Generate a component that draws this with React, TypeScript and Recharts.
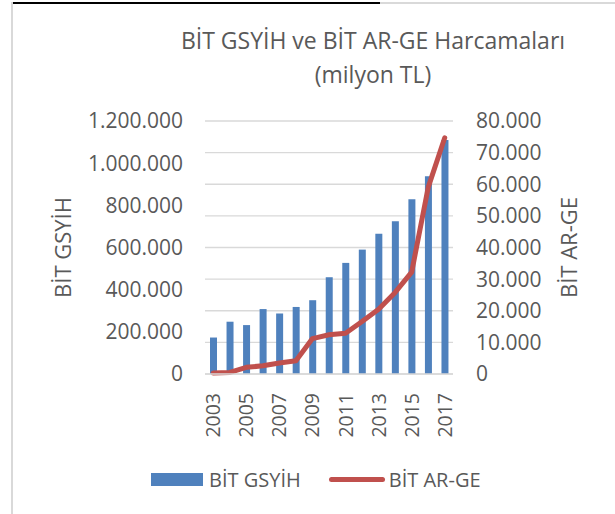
import React from 'react'
import {
  Bar,
  CartesianGrid,
  ComposedChart,
  Label,
  Line,
  XAxis,
  YAxis,
} from 'recharts'

const years = [
  '2003', '2004', '2005', '2006', '2007', '2008', '2009', '2010',
  '2011', '2012', '2013', '2014', '2015', '2016', '2017',
]
const gsyih = [
  173000, 248000, 232000, 308000, 287000, 318000, 350000, 459000,
  527000, 590000, 665000, 725000, 829000, 938000, 1110000,
]
const arge = [
  300, 500, 2100, 2600, 3500, 4200, 11200, 12400,
  12900, 16600, 20500, 25800, 32200, 59000, 74700,
]
const leftTicks = [0, 200000, 400000, 600000, 800000, 1000000, 1200000]
const rightTicks = [0, 10000, 20000, 30000, 40000, 50000, 60000, 70000, 80000]

const data = years.map((year, i) => ({
  year,
  gsyih: gsyih[i],
  arge: arge[i],
}))

const BLUE = '#4f81bd'
const RED = '#c0504d'
const TEXT = '#595959'
const FONT = '"Open Sans", sans-serif'

// 1200000 -> "1.200.000"
const fmt = (v: number) => String(v).replace(/\B(?=(\d{3})+(?!\d))/g, '.')

const YearTick = (props: any) => {
  const { x, y, payload } = props
  return (
    <g transform={`translate(${x},${y})`}>
      <text
        x={0}
        y={0}
        dy="0.36em"
        textAnchor="end"
        transform="rotate(-90)"
        fill={TEXT}
        fontSize={19.5}
        fontFamily={FONT}
      >
        {payload.value}
      </text>
    </g>
  )
}

const axisTitle = (text: string, dx: number) => (props: any) => {
  const { viewBox } = props
  const cx = viewBox.x + dx
  const cy = viewBox.y + viewBox.height / 2
  return (
    <text
      x={cx}
      y={cy}
      transform={`rotate(-90 ${cx} ${cy})`}
      textAnchor="middle"
      dominantBaseline="central"
      fill={TEXT}
      fontSize={22}
      fontFamily={FONT}
    >
      {text}
    </text>
  )
}

export default function App() {
  return (
    <div
      style={{
        position: 'absolute',
        left: 0,
        top: 0,
        width: 615,
        height: 514,
        background: '#fff',
        fontFamily: FONT,
        overflow: 'hidden',
      }}
    >
      {/* page frame */}
      <div style={{ position: 'absolute', left: 12, top: 2, width: 368, height: 2, background: '#000' }} />
      <div style={{ position: 'absolute', left: 380, top: 2, width: 235, height: 2, background: '#d9d9d9' }} />
      <div style={{ position: 'absolute', left: 11, top: 2, width: 2, height: 512, background: '#d9d9d9' }} />

      <div
        style={{
          position: 'absolute',
          left: 173,
          top: 23,
          width: 400,
          textAlign: 'center',
          color: TEXT,
          fontSize: 23,
          lineHeight: '34px',
        }}
      >
        BİT GSYİH ve BİT AR-GE Harcamaları
        <br />
        (milyon TL)
      </div>

      <ComposedChart
        width={615}
        height={514}
        data={data}
        margin={{ top: 121, right: 30, bottom: 30, left: 30 }}
      >
        <CartesianGrid vertical={false} yAxisId="right" stroke="#d9d9d9" strokeWidth={1.3} />
        <XAxis
          dataKey="year"
          height={110}
          interval={1}
          tickSize={0}
          tickMargin={19}
          tick={<YearTick />}
          axisLine={{ stroke: '#d9d9d9', strokeWidth: 1.5 }}
          tickLine={false}
        />
        <YAxis
          yAxisId="left"
          width={175}
          domain={[0, 1200000]}
          ticks={leftTicks}
          tickFormatter={fmt}
          tickSize={0}
          tickMargin={22}
          axisLine={false}
          tickLine={false}
          tick={{ fill: TEXT, fontSize: 21, fontFamily: FONT }}
        >
          <Label content={axisTitle('BİT GSYİH', 32)} />
        </YAxis>
        <YAxis
          yAxisId="right"
          orientation="right"
          width={132}
          domain={[0, 80000]}
          ticks={rightTicks}
          tickFormatter={fmt}
          tickSize={0}
          tickMargin={23}
          axisLine={false}
          tickLine={false}
          tick={{ fill: TEXT, fontSize: 21, fontFamily: FONT, textAnchor: 'start' }}
        >
          <Label content={axisTitle('BİT AR-GE', 115)} />
        </YAxis>
        <Bar
          yAxisId="left"
          dataKey="gsyih"
          name="BİT GSYİH"
          fill={BLUE}
          barSize={7}
          isAnimationActive={false}
        />
        <Line
          yAxisId="right"
          dataKey="arge"
          name="BİT AR-GE"
          type="linear"
          stroke={RED}
          strokeWidth={5}
          strokeLinecap="round"
          strokeLinejoin="round"
          dot={false}
          activeDot={false}
          isAnimationActive={false}
        />
      </ComposedChart>

      {/* legend */}
      <div
        style={{
          position: 'absolute',
          left: 151,
          top: 464,
          height: 30,
          display: 'flex',
          alignItems: 'center',
          color: TEXT,
          fontSize: 20,
        }}
      >
        <span style={{ display: 'inline-block', width: 52, height: 13, background: BLUE }} />
        <span style={{ marginLeft: 6 }}>BİT GSYİH</span>
        <span
          style={{
            display: 'inline-block',
            width: 56,
            height: 5,
            borderRadius: 3,
            background: RED,
            marginLeft: 28,
          }}
        />
        <span style={{ marginLeft: 4 }}>BİT AR-GE</span>
      </div>
    </div>
  )
}
